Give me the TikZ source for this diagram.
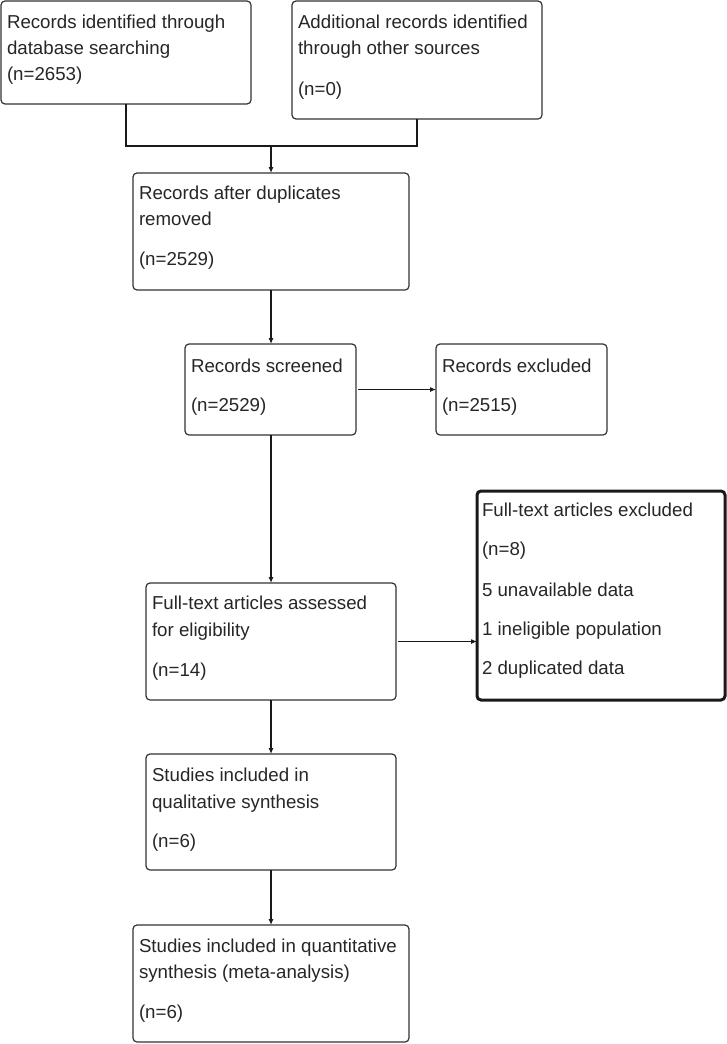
\documentclass[tikz,border=0pt]{standalone}
\usepackage{fontspec}
\setmainfont{Liberation Sans}
\usetikzlibrary{arrows.meta}
\begin{document}
\begin{tikzpicture}[x=1pt,y=-1pt,
  box/.style={draw=black!80, line width=1.2pt, rounded corners=4pt, inner sep=0pt, outer sep=0pt, anchor=north west},
  boldbox/.style={box, draw=black!90, line width=3pt},
  txt/.style={anchor=base west, inner sep=0pt, outer sep=0pt, text=black!85, font=\fontsize{18.7}{22}\selectfont},
  conn/.style={draw=black!90, line width=1.1pt},
  arr/.style={conn, -{Latex[length=6pt,width=5pt]}}]
\useasboundingbox (0,0) rectangle (727,1044);

% boxes
\node[box, minimum width=250pt, minimum height=103pt] (b1) at (1,1) {};
\node[box, minimum width=250pt, minimum height=118pt] (b2) at (292,1) {};
\node[box, minimum width=276pt, minimum height=117pt] (b3) at (133,173) {};
\node[box, minimum width=171pt, minimum height=91pt] (b4) at (185,344) {};
\node[box, minimum width=171pt, minimum height=91pt] (b5) at (436,344) {};
\node[box, minimum width=250pt, minimum height=117pt] (b6) at (146,583) {};
\node[boldbox, minimum width=248pt, minimum height=209pt] (b7) at (477,491) {};
\node[box, minimum width=250pt, minimum height=116pt] (b8) at (146,754) {};
\node[box, minimum width=276pt, minimum height=117pt] (b9) at (133,925) {};

% texts
\node[txt] (t1a) at ([shift={(6pt,-27pt)}]b1.north west) {Records identified through};
\node[txt] (t1b) at ([shift={(6pt,-53pt)}]b1.north west) {database searching};
\node[txt] (t1c) at ([shift={(6pt,-79pt)}]b1.north west) {(n=2653)};

\node[txt] (t2a) at ([shift={(6pt,-27pt)}]b2.north west) {Additional records identified};
\node[txt] (t2b) at ([shift={(6pt,-53pt)}]b2.north west) {through other sources};
\node[txt] (t2c) at ([shift={(6pt,-94pt)}]b2.north west) {(n=0)};

\node[txt] (t3a) at ([shift={(6pt,-26pt)}]b3.north west) {Records after duplicates};
\node[txt] (t3b) at ([shift={(6pt,-52pt)}]b3.north west) {removed};
\node[txt] (t3c) at ([shift={(6pt,-92pt)}]b3.north west) {(n=2529)};

\node[txt] (t4a) at ([shift={(6pt,-28pt)}]b4.north west) {Records screened};
\node[txt] (t4b) at ([shift={(6pt,-67pt)}]b4.north west) {(n=2529)};

\node[txt] (t5a) at ([shift={(6pt,-28pt)}]b5.north west) {Records excluded};
\node[txt] (t5b) at ([shift={(6pt,-67pt)}]b5.north west) {(n=2515)};

\node[txt] (t6a) at ([shift={(6pt,-26pt)}]b6.north west) {Full-text articles assessed};
\node[txt] (t6b) at ([shift={(6pt,-53pt)}]b6.north west) {for eligibility};
\node[txt] (t6c) at ([shift={(6pt,-93pt)}]b6.north west) {(n=14)};

\node[txt] (t7a) at ([shift={(5pt,-25pt)}]b7.north west) {Full-text articles excluded};
\node[txt] (t7b) at ([shift={(5pt,-64pt)}]b7.north west) {(n=8)};
\node[txt] (t7c) at ([shift={(5pt,-105pt)}]b7.north west) {5 unavailable data};
\node[txt] (t7d) at ([shift={(5pt,-144pt)}]b7.north west) {1 ineligible population};
\node[txt] (t7e) at ([shift={(5pt,-183pt)}]b7.north west) {2 duplicated data};

\node[txt] (t8a) at ([shift={(6pt,-27pt)}]b8.north west) {Studies included in};
\node[txt] (t8b) at ([shift={(6pt,-54pt)}]b8.north west) {qualitative synthesis};
\node[txt] (t8c) at ([shift={(6pt,-93pt)}]b8.north west) {(n=6)};

\node[txt] (t9a) at ([shift={(6pt,-27pt)}]b9.north west) {Studies included in quantitative};
\node[txt] (t9b) at ([shift={(6pt,-53pt)}]b9.north west) {synthesis (meta-analysis)};
\node[txt] (t9c) at ([shift={(6pt,-93pt)}]b9.north west) {(n=6)};

% connectors
\coordinate (j) at (271,146);
\draw[conn] (b1.south) |- (j) -| (b2.south);
\draw[arr] (j) -- (b3.north);
\draw[arr] (b3.south) -- (b3.south |- b4.north);
\draw[arr, shorten <=2pt] (b4.east) -- (b5.west);
\draw[arr] (b4.south -| b6.north) -- (b6.north);
\draw[arr, shorten <=2pt] (b6.east) -- (b6.east -| b7.west);
\draw[arr] (b6.south) -- (b8.north);
\draw[arr] (b8.south) -- (b8.south -| b9.north) -- (b9.north);
\end{tikzpicture}
\end{document}
